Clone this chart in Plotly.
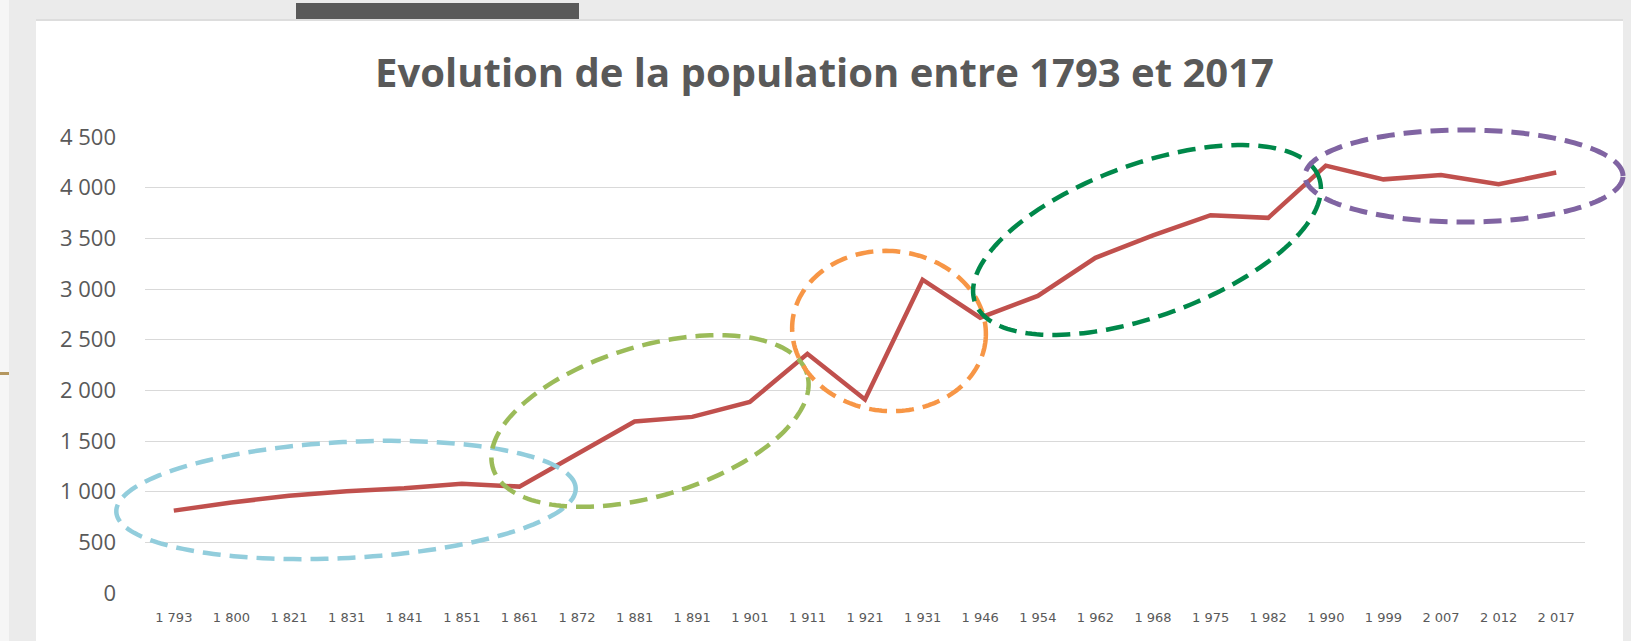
import numpy as np
import plotly.graph_objects as go

# ---- data ----
years = [1793, 1800, 1821, 1831, 1841, 1851, 1861, 1872, 1881, 1891, 1901, 1911, 1921,
         1931, 1946, 1954, 1962, 1968, 1975, 1982, 1990, 1999, 2007, 2012, 2017]
population = [813, 893, 960, 1005, 1033, 1078, 1050, 1370, 1692, 1738, 1885, 2360, 1910,
              3092, 2717, 2932, 3308, 3530, 3728, 3702, 4217, 4082, 4125, 4033, 4150]
year_labels = [f"{y:,}".replace(",", " ") for y in years]
y_ticks = [0, 500, 1000, 1500, 2000, 2500, 3000, 3500, 4000, 4500]
y_ticklabels = [f"{v:,}".replace(",", " ") for v in y_ticks]
title_text = "Evolution de la population entre 1793 et 2017"

# ---- layout geometry (pixels) ----
W, H = 1631, 641
L, R, T, B = 145, 46, 137, 48
PW, PH = W - L - R, H - T - B


def px2paper(px, py):
    return (px - L) / PW, (H - B - py) / PH


def ellipse_path(cx, cy, a, b, theta_deg, n=180):
    th = np.radians(theta_deg)
    t = np.linspace(0, 2 * np.pi, n, endpoint=False)
    x = cx + a * np.cos(t) * np.cos(th) - b * np.sin(t) * np.sin(th)
    yup = a * np.cos(t) * np.sin(th) + b * np.sin(t) * np.cos(th)
    y = cy - yup
    pts = [px2paper(xi, yi) for xi, yi in zip(x, y)]
    return "M " + " L ".join(f"{p[0]:.5f},{p[1]:.5f}" for p in pts) + " Z"


fig = go.Figure()
fig.add_trace(go.Scatter(
    x=year_labels, y=population, mode="lines",
    line=dict(color="#C0504D", width=4.5),
    hoverinfo="x+y", showlegend=False,
))

shapes = []


def rect(x0, y0, x1, y1, color, layer="below"):
    a0 = px2paper(x0, y1)
    a1 = px2paper(x1, y0)
    return dict(type="rect", xref="paper", yref="paper", x0=a0[0], y0=a0[1], x1=a1[0], y1=a1[1],
                fillcolor=color, line=dict(width=0), layer=layer)


shapes.append(rect(0, 0, 9, H, "#F6F6F6"))
shapes.append(rect(36, 21, 1623, H, "#FFFFFF"))
shapes.append(rect(36, 19, 1623, 21, "#DDDDDD"))
shapes.append(rect(296, 3, 579, 19, "#595959"))
shapes.append(rect(0, 372, 9, 375, "#B4975F"))

ellipses = [
    (346, 500, 230, 58, 3, "#92CDDC", 4.5),
    (650, 421, 164, 75, 16.6, "#9BBB59", 4.5),
    (889, 331, 97, 80, -5, "#F79646", 4.5),
    (1147, 240, 183, 76, 20, "#00884A", 4.5),
    (1464, 176, 159, 46, 0, "#8064A2", 5),
]
for cx, cy, a, b, th, col, w in ellipses:
    shapes.append(dict(type="path", xref="paper", yref="paper", path=ellipse_path(cx, cy, a, b, th),
                       line=dict(color=col, width=w, dash="18px,9px"), layer="above"))

fig.update_layout(
    width=W, height=H,
    margin=dict(l=L, r=R, t=T, b=B, pad=0),
    paper_bgcolor="#EBEBEB",
    plot_bgcolor="rgba(0,0,0,0)",
    shapes=shapes,
    title=dict(text=title_text, x=824.5 / W, xanchor="center", y=1 - 73 / H, yanchor="middle",
               xref="container", yref="container",
               font=dict(family="Open Sans", size=40, color="#595959", weight=700)),
    xaxis=dict(type="category", range=[-0.5, len(years) - 0.5], showgrid=False, showline=False,
               zeroline=False, ticks="", tickfont=dict(family="DejaVu Sans", size=13, color="#595959"),
               ticklabelstandoff=15, fixedrange=True),
    yaxis=dict(range=[0, 4500], tickvals=y_ticks, ticktext=y_ticklabels,
               showgrid=True, gridcolor="#D9D9D9", gridwidth=1.3, zeroline=False,
               showline=False, ticks="", ticklabelstandoff=28,
               tickfont=dict(family="Open Sans", size=22, color="#595959"), fixedrange=True),
)

fig.write_html("out.html", config={"displayModeBar": False},
               post_script="document.body.style.margin='0';document.body.style.overflow='hidden';")
